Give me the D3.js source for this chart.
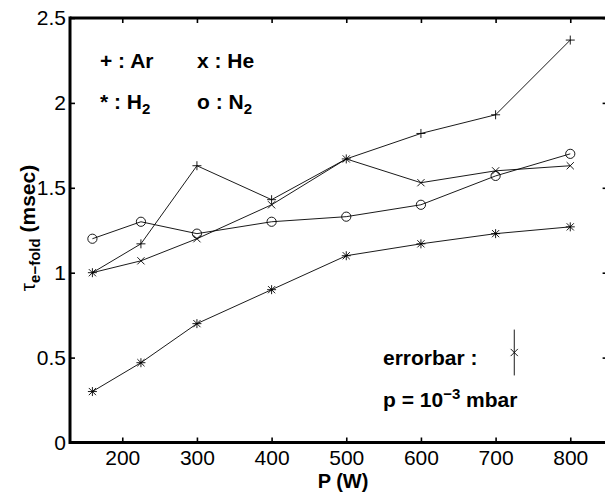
<!DOCTYPE html>
<html>
<head>
<meta charset="utf-8">
<script src="https://cdn.jsdelivr.net/npm/d3@7"></script>
<style>
  body { margin: 0; background: #fff; }
  svg { display: block; font-family: "Liberation Sans", Arial, sans-serif; }
</style>
</head>
<body>
<script>
// power (W) and e-fold times (msec) per gas
const power = [160, 225, 300, 400, 500, 600, 700, 800];
const tauAr = [1.0, 1.17, 1.63, 1.43, 1.67, 1.82, 1.93, 2.37];
const tauHe = [1.0, 1.07, 1.2, 1.4, 1.67, 1.53, 1.6, 1.63];
const tauH2 = [0.3, 0.47, 0.7, 0.9, 1.1, 1.17, 1.23, 1.27];
const tauN2 = [1.2, 1.3, 1.23, 1.3, 1.33, 1.4, 1.57, 1.7];

// sample errorbar
const errX = [725];
const errY = [0.53];
const errD = [0.135];

const xTicks = [200, 300, 400, 500, 600, 700, 800];
const yTicks = [0, 0.5, 1, 1.5, 2, 2.5];

init();

function init() {
  let svg = d3.select("body").append("svg")
              .attr("width", 605)
              .attr("height", 493);

  let x = d3.scaleLinear().domain([130, 850]).range([70, 607.6]);
  let y = d3.scaleLinear().domain([0, 2.5]).range([442.5, 18]);

  // axes, ticks pointing inward
  let axB = svg.append("g").attr("transform", "translate(0,442.5)")
    .call(d3.axisBottom(x).tickValues(xTicks).tickSize(-5).tickPadding(8).tickFormat(d3.format("d")));
  let axL = svg.append("g").attr("transform", "translate(70,0)")
    .call(d3.axisLeft(y).tickValues(yTicks).tickSize(-5).tickPadding(4).tickFormat(d => d));
  let axT = svg.append("g").attr("transform", "translate(0,18)")
    .call(d3.axisTop(x).tickValues(xTicks).tickSize(-5).tickFormat(""));
  let axR = svg.append("g").attr("transform", "translate(607.6,0)")
    .call(d3.axisRight(y).tickValues(yTicks).tickSize(-5).tickFormat(""));

  [axB, axL, axT, axR].forEach(a => {
    a.select(".domain").remove();
    a.selectAll(".tick line").attr("stroke", "#000").attr("stroke-width", 1.6);
    a.selectAll(".tick text").attr("fill", "#000").attr("font-size", 21)
      .attr("font-family", "Liberation Sans, Arial, sans-serif");
  });

  // frame
  let frame = svg.append("g").attr("stroke", "#000").attr("stroke-width", 3).attr("fill", "none");
  frame.append("line").attr("x1", x.range()[0]).attr("x2", x.range()[1]).attr("y1", y.range()[0]).attr("y2", y.range()[0]);
  frame.append("line").attr("x1", x.range()[0]).attr("x2", x.range()[1]).attr("y1", y.range()[1]).attr("y2", y.range()[1]);
  frame.append("line").attr("x1", x.range()[0]).attr("x2", x.range()[0]).attr("y1", y.range()[0] + 1.5).attr("y2", y.range()[1] - 1.5);
  frame.append("line").attr("x1", x.range()[1]).attr("x2", x.range()[1]).attr("y1", y.range()[0] + 1.5).attr("y2", y.range()[1] - 1.5);

  let line = d3.line().x(d => x(d[0])).y(d => y(d[1]));

  let series = [
    { vals: tauAr, mark: "+" },
    { vals: tauHe, mark: "x" },
    { vals: tauH2, mark: "*" },
    { vals: tauN2, mark: "o" }
  ];

  let plot = svg.append("g");
  series.forEach(s => {
    let pts = power.map((p, i) => [p, s.vals[i]]);
    plot.append("path").datum(pts)
        .attr("d", line)
        .attr("fill", "none")
        .attr("stroke", "#000")
        .attr("stroke-width", 0.9);
    plot.selectAll(null).data(pts).enter()
        .append("path")
        .attr("transform", d => `translate(${x(d[0])},${y(d[1])})`)
        .attr("d", markerPath(s.mark))
        .attr("fill", "none")
        .attr("stroke", "#000")
        .attr("stroke-width", 0.9);
  });

  // errorbar sample
  let eb = svg.append("g");
  eb.selectAll(null).data(errX).enter().append("line")
    .attr("x1", d => x(d)).attr("x2", d => x(d))
    .attr("y1", (d, i) => y(errY[i] + errD[i]))
    .attr("y2", (d, i) => y(errY[i] - errD[i]))
    .attr("stroke", "#000").attr("stroke-width", 0.9);
  eb.selectAll(null).data(errX).enter().append("path")
    .attr("transform", (d, i) => `translate(${x(d)},${y(errY[i])})`)
    .attr("d", markerPath("x"))
    .attr("fill", "none").attr("stroke", "#000").attr("stroke-width", 0.9);

  // legend / annotations
  let ann = svg.append("g").attr("font-weight", "bold").attr("font-size", 21).attr("fill", "#000");
  ann.append("text").attr("x", 100).attr("y", 68).text("+ : Ar");
  ann.append("text").attr("x", 197).attr("y", 68).text("x : He");
  let h2 = ann.append("text").attr("x", 100).attr("y", 109).text("* : H");
  h2.append("tspan").attr("dy", 5).attr("font-size", 15).text("2");
  let n2 = ann.append("text").attr("x", 197).attr("y", 109).text("o : N");
  n2.append("tspan").attr("dy", 5).attr("font-size", 15).text("2");

  ann.append("text").attr("x", 383).attr("y", 365).text("errorbar :");
  let pr = ann.append("text").attr("x", 383).attr("y", 407).text("p = 10");
  pr.append("tspan").attr("dy", -8).attr("font-size", 15).text("\u22123");
  pr.append("tspan").attr("dy", 8).text(" mbar");

  // axis labels
  svg.append("text").attr("x", 343).attr("y", 488)
     .attr("text-anchor", "middle").attr("font-weight", "bold").attr("font-size", 20)
     .text("P (W)");

  let yl = svg.append("text")
     .attr("transform", "translate(35,228) rotate(-90)")
     .attr("text-anchor", "middle").attr("font-weight", "bold").attr("font-size", 21);
  yl.append("tspan").attr("font-weight", "normal").text("\u03c4");
  yl.append("tspan").attr("dy", 5).attr("font-size", 15).text("e\u2212fold");
  yl.append("tspan").attr("dy", -5).text(" (msec)");
}

function markerPath(m) {
  let r = 4.5;
  let plus = `M${-r},0L${r},0M0,${-r}L0,${r}`;
  let q = 3.6;
  let cross = `M${-q},${-q}L${q},${q}M${-q},${q}L${q},${-q}`;
  if (m === "+") return plus;
  if (m === "x") return cross;
  if (m === "*") return plus + cross;
  let c = 4.6;
  return `M${c},0A${c},${c} 0 1,1 ${-c},0A${c},${c} 0 1,1 ${c},0Z`;
}
</script>
</body>
</html>
